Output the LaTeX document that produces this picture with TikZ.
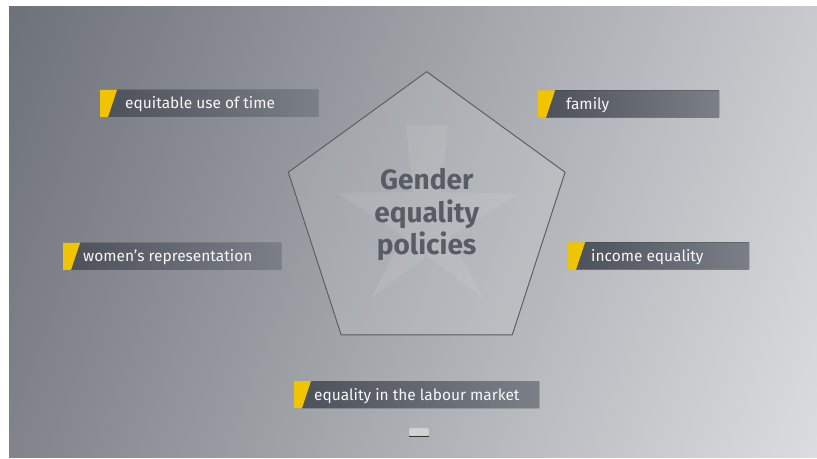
\documentclass[tikz,border=0pt]{standalone}
\usepackage{fontspec}
\setmainfont{Fira Sans}
\usepackage{xcolor}
\usepackage{tikz}
\usetikzlibrary{calc}

\definecolor{dwyellow}{RGB}{240,196,0}
\definecolor{bgdark}{RGB}{84,89,97}
\definecolor{bglight}{RGB}{244,245,247}
\definecolor{boxdark}{RGB}{76,81,90}
\definecolor{boxlight}{RGB}{122,127,136}
\definecolor{pentline}{RGB}{88,91,98}
\definecolor{titlegray}{RGB}{88,92,100}

\begin{document}
\begin{tikzpicture}[x=0.03cm, y=-0.03cm]
        \tikzstyle{tag} = [fill=dwyellow]
        \tikzstyle{strip} = [left color=boxdark, right color=boxlight]
        \tikzstyle{tagtext} = [anchor=base west, text=white!94!gray, inner sep=0pt, font=\fontsize{13.2}{15}\selectfont]

        % frame and backdrop
        \fill[white] (0,0) rectangle (817,459);
        \useasboundingbox (0,0) rectangle (817,459);
        \begin{scope}
                \clip (9,7) rectangle (817,457);
                \shade[top color=bgdark, bottom color=bglight, shading angle=69] (-350,-200) rectangle (1176,664);
        \end{scope}

        % pentagon
        \coordinate (c) at (426.7,217.2);
        \foreach \k in {0,...,4}
        {
                \coordinate (p\k) at ($(c) + (270+72*\k:145.5)$);
        }
        \draw[pentline, line width=0.8pt, fill=white, fill opacity=0.12] (p0)--(p1)--(p2)--(p3)--(p4)--cycle;

        % faint star
        \fill[white, opacity=0.08] (406,125)--(448,125)--(441,192)--(518,194)--(450,236)--(483,298)
                --(427,256)--(371,298)--(404,236)--(337,193)--(413,192)--cycle;

        \node[font=\bfseries\fontsize{23.9}{28}\selectfont, text=titlegray, align=center] (title) at (426.7,214.5) {Gender\\equality\\policies};

        % labels
        \foreach \x/\y/\r/\tx/\txt/\nm in {100/90/318/25/equitable use of time/time,
                538/90.5/719/28/family/family,
                63/243/281/20/women’s representation/women,
                568/242.5/749/23/income equality/income,
                294/381/539/20/equality in the labour market/labour}
        {
                \fill[strip] (\x+17,\y) -- (\r,\y) -- (\r,\y+27) -- (\x+8,\y+27) -- cycle;
                \fill[tag] (\x,\y) -- (\x+17,\y) -- (\x+8,\y+27) -- (\x,\y+27) -- cycle;
                \node[tagtext] (\nm) at (\x+\tx,\y+19) {\txt};
        }

        % small button
        \node[fill=gray!35, draw=gray!65, rounded corners=1pt, inner sep=0pt, minimum width=0.6cm, minimum height=0.25cm] (btn) at (419,432) {};
        \draw[gray!40!black, line width=0.8pt] (btn.south west) -- (btn.south east);
\end{tikzpicture}
\end{document}
